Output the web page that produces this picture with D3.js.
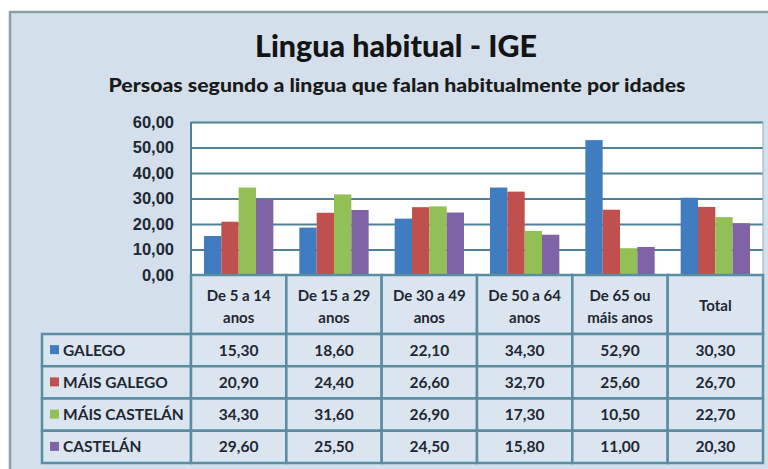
<!DOCTYPE html>
<html>
<head>
<meta charset="utf-8">
<script src="https://cdn.jsdelivr.net/npm/d3@7/dist/d3.min.js"></script>
<style>
  body { margin: 0; background: #fff; }
  svg { display: block; font-family: Lato, "Open Sans", sans-serif; }
  .tick text { font-weight: 700; fill: #1f2833; }
  .cell { fill: #dae5f0; stroke: #5a8da2; stroke-width: 2.5px; }
  .grid line { stroke: #4f8196; stroke-width: 2px; }
</style>
</head>
<body>
<svg id="chart" width="768" height="469"></svg>
<script>
  // data
  var categories = ["De 5 a 14 anos", "De 15 a 29 anos", "De 30 a 49 anos", "De 50 a 64 anos", "De 65 ou máis anos", "Total"];
  var headerLines = [["De 5 a 14", "anos"], ["De 15 a 29", "anos"], ["De 30 a 49", "anos"], ["De 50 a 64", "anos"], ["De 65 ou", "máis anos"], ["Total"]];
  var seriesNames = ["GALEGO", "MÁIS GALEGO", "MÁIS CASTELÁN", "CASTELÁN"];
  var galego = [15.3, 18.6, 22.1, 34.3, 52.9, 30.3];
  var maisGalego = [20.9, 24.4, 26.6, 32.7, 25.6, 26.7];
  var maisCastelan = [34.3, 31.6, 26.9, 17.3, 10.5, 22.7];
  var castelan = [29.6, 25.5, 24.5, 15.8, 11.0, 20.3];
  var yTicks = [0, 10, 20, 30, 40, 50, 60];

  var seriesValues = [galego, maisGalego, maisCastelan, castelan];
  var colors = ["#3f7cc0", "#c0504d", "#93bf57", "#7f63a6"];

  var svg = d3.select("#chart");
  var fmt = d3.formatLocale({decimal: ",", thousands: ".", grouping: [3], currency: ["", "€"]}).format(".2f");

  // panel
  svg.append("rect")
    .attr("x", 10).attr("y", 12).attr("width", 780).attr("height", 480)
    .style("fill", "#d3e0ec").style("stroke", "#8d9da5").style("stroke-width", "2.5px");

  svg.append("text")
    .attr("x", 396).attr("y", 57)
    .attr("text-anchor", "middle")
    .attr("textLength", 282).attr("lengthAdjust", "spacingAndGlyphs")
    .style("font-size", "30px").style("font-weight", 900).style("fill", "#141414")
    .text("Lingua habitual - IGE");

  svg.append("text")
    .attr("x", 397).attr("y", 92)
    .attr("text-anchor", "middle")
    .attr("textLength", 577).attr("lengthAdjust", "spacingAndGlyphs")
    .style("font-size", "19px").style("font-weight", 900).style("fill", "#1a1a1a")
    .text("Persoas segundo a lingua que falan habitualmente por idades");

  var plotLeft = 191, plotRight = 763, plotTop = 122, plotBase = 275;
  var headBottom = 334, tableBottom = 463, labelLeft = 42;

  var x0 = d3.scaleBand().domain(categories).range([plotLeft, plotRight]);
  var x1 = d3.scaleBand().domain(seriesNames).range([0, x0.bandwidth()]).paddingOuter(0.75);
  var y = d3.scaleLinear().domain([0, 60]).range([plotBase, plotTop]);

  // plot area
  svg.append("rect")
    .attr("x", plotLeft).attr("y", plotTop).attr("width", plotRight - plotLeft).attr("height", plotBase - plotTop)
    .style("fill", "#fff");

  svg.append("g")
    .attr("class", "grid")
    .attr("transform", "translate(" + plotLeft + ",0)")
    .call(d3.axisLeft(y).tickValues(yTicks).tickSize(-(plotRight - plotLeft)).tickFormat(""))
    .call(function(g) { g.select(".domain").remove(); });

  svg.append("line")
    .attr("x1", plotLeft).attr("x2", plotLeft).attr("y1", plotTop).attr("y2", plotBase)
    .style("stroke", "#4f8196").style("stroke-width", "2px");
  svg.append("line")
    .attr("x1", plotRight).attr("x2", plotRight).attr("y1", plotTop).attr("y2", plotBase)
    .style("stroke", "#8fb0c0").style("stroke-width", "1px");

  // y labels
  svg.append("g")
    .attr("transform", "translate(174,0)")
    .call(d3.axisLeft(y).tickValues(yTicks).tickSize(0).tickPadding(0).tickFormat(fmt))
    .call(function(g) { g.select(".domain").remove(); })
    .selectAll("text").style("font-size", "16.5px");

  // bars
  var groups = svg.append("g").selectAll("g")
    .data(seriesNames)
    .join("g")
    .style("fill", function(d, i) { return colors[i]; });

  groups.selectAll("rect")
    .data(function(d, i) { return seriesValues[i].map(function(v, j) { return {s: d, c: categories[j], v: v}; }); })
    .join("rect")
    .attr("x", function(d) { return x0(d.c) + x1(d.s); })
    .attr("width", x1.bandwidth())
    .attr("y", function(d) { return y(d.v); })
    .attr("height", function(d) { return plotBase - y(d.v); });

  // data table
  var rowY = d3.scaleBand().domain(seriesNames).range([headBottom, tableBottom]);
  var table = svg.append("g");

  table.selectAll(".head")
    .data(categories)
    .join("rect")
    .attr("class", "cell head")
    .attr("x", function(d) { return x0(d); })
    .attr("y", plotBase)
    .attr("width", x0.bandwidth())
    .attr("height", headBottom - plotBase);

  table.selectAll(".headText")
    .data(categories)
    .join("text")
    .attr("class", "headText")
    .attr("text-anchor", "middle")
    .attr("x", function(d) { return x0(d) + x0.bandwidth() / 2; })
    .attr("y", function(d, i) { return headerLines[i].length > 1 ? 301 : 311; })
    .style("font-size", "15px").style("font-weight", 700).style("fill", "#1f2833")
    .selectAll("tspan")
    .data(function(d, i) { return headerLines[i]; })
    .join("tspan")
    .attr("x", function() { return this.parentNode.getAttribute("x"); })
    .attr("dy", function(d, i) { return i ? 22 : 0; })
    .text(function(d) { return d; });

  var rows = table.selectAll(".row")
    .data(seriesNames)
    .join("g")
    .attr("class", "row");

  rows.append("rect")
    .attr("class", "cell")
    .attr("x", labelLeft).attr("y", function(d) { return rowY(d); })
    .attr("width", plotLeft - labelLeft).attr("height", rowY.bandwidth());

  rows.append("rect")
    .attr("x", 50).attr("y", function(d) { return rowY(d) + rowY.bandwidth() / 2 - 5; })
    .attr("width", 9).attr("height", 9)
    .style("fill", function(d, i) { return colors[i]; });

  rows.append("text")
    .attr("x", 63).attr("y", function(d) { return rowY(d) + rowY.bandwidth() / 2 + 5.5; })
    .style("font-size", "15.5px").style("font-weight", 700).style("fill", "#1f2833")
    .text(function(d) { return d; });

  rows.selectAll(".val")
    .data(function(d, i) { return seriesValues[i].map(function(v, j) { return {s: d, c: categories[j], v: v}; }); })
    .join("rect")
    .attr("class", "cell val")
    .attr("x", function(d) { return x0(d.c); })
    .attr("y", function(d) { return rowY(d.s); })
    .attr("width", x0.bandwidth())
    .attr("height", rowY.bandwidth());

  rows.selectAll(".valText")
    .data(function(d, i) { return seriesValues[i].map(function(v, j) { return {s: d, c: categories[j], v: v}; }); })
    .join("text")
    .attr("class", "valText")
    .attr("text-anchor", "middle")
    .attr("x", function(d) { return x0(d.c) + x0.bandwidth() / 2; })
    .attr("y", function(d) { return rowY(d.s) + rowY.bandwidth() / 2 + 5.5; })
    .style("font-size", "15.5px").style("font-weight", 700).style("fill", "#1f2833")
    .text(function(d) { return fmt(d.v); });
</script>
</body>
</html>
